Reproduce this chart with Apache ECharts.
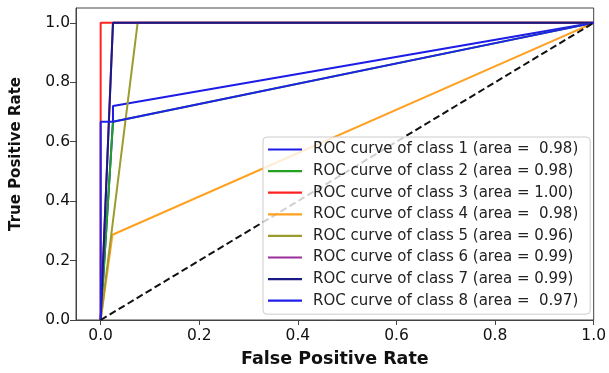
<!DOCTYPE html>
<html>
<head>
<meta charset="utf-8">
<script src="https://cdn.jsdelivr.net/npm/echarts@6/dist/echarts.min.js"></script>
<style>
  html, body { margin: 0; padding: 0; background: #fff; }
  #chart { width: 609px; height: 373px; }
</style>
</head>
<body>
<div id="chart"></div>
<script>
// Per-class ROC curves: false positive rate / true positive rate pairs
const fpr1 = [0, 0.025, 0.025, 1];
const tpr1 = [0, 0.667, 0.72, 1];
const fpr2 = [0, 0.025, 1];
const tpr2 = [0, 0.667, 1];
const fpr3 = [0, 0, 1];
const tpr3 = [0, 1, 1];
const fpr4 = [0, 0.024, 1];
const tpr4 = [0, 0.287, 1];
const fpr5 = [0, 0.075, 1];
const tpr5 = [0, 1, 1];
const fpr6 = [0, 0.025, 1];
const tpr6 = [0, 1, 1];
const fpr7 = [0, 0.025, 1];
const tpr7 = [0, 1, 1];
const fpr8 = [0, 0, 0.025, 1];
const tpr8 = [0, 0.667, 0.667, 1];

const classIds = ['1', '2', '3', '4', '5', '6', '7', '8'];
const areaLabels = [' 0.98', '0.98', '1.00', ' 0.98', '0.96', '0.99', '0.99', ' 0.97'];
const classColors = ['#1c1ce6', '#22a022', '#ff2222', '#ffa020', '#9c9c2c', '#9a2e9a', '#1a1a84', '#2020e8'];

// Chance diagonal
const chanceFpr = [0, 1];
const chanceTpr = [0, 1];

const tickValues = [0, 0.2, 0.4, 0.6, 0.8, 1.0];

const fprs = [fpr1, fpr2, fpr3, fpr4, fpr5, fpr6, fpr7, fpr8];
const tprs = [tpr1, tpr2, tpr3, tpr4, tpr5, tpr6, tpr7, tpr8];

const pairs = (xs, ys) => xs.map((x, i) => [x, ys[i]]);
const names = classIds.map((c, i) => 'ROC curve of class ' + c + ' (area = ' + areaLabels[i] + ')');

const series = names.map((name, i) => ({
  name: name,
  type: 'line',
  data: pairs(fprs[i], tprs[i]),
  symbol: 'none',
  color: classColors[i],
  lineStyle: { width: 2, color: classColors[i] },
  z: 2 + i,
  animation: false
}));

series.push({
  name: 'chance',
  type: 'line',
  data: pairs(chanceFpr, chanceTpr),
  symbol: 'none',
  color: '#111',
  lineStyle: { width: 2, color: '#111', type: [7, 3.5] },
  z: 12,
  animation: false
});

const fontFam = '"DejaVu Sans", sans-serif';
const chart = echarts.init(document.getElementById('chart'));
chart.setOption({
  animation: false,
  grid: {
    left: 76, right: 12, top: 8, bottom: 53,
    show: true, borderColor: '#444', borderWidth: 1, backgroundColor: 'transparent'
  },
  xAxis: {
    type: 'value',
    min: -0.05, max: 1.0,
    name: 'False Positive Rate',
    nameLocation: 'middle',
    nameGap: 30,
    nameTextStyle: { fontFamily: fontFam, fontSize: 17.5, fontWeight: 'bold', color: '#111' },
    axisLine: { show: true, onZero: false, lineStyle: { color: '#444', width: 1 } },
    axisTick: { show: true, customValues: tickValues, length: 5, lineStyle: { color: '#444' } },
    axisLabel: {
      customValues: tickValues, fontFamily: fontFam, fontSize: 15.5, color: '#111', margin: 8,
      formatter: v => v.toFixed(1)
    },
    splitLine: { show: false }
  },
  yAxis: {
    type: 'value',
    min: 0, max: 1.05,
    axisLine: { show: true, onZero: false, lineStyle: { color: '#444', width: 1 } },
    axisTick: { show: true, customValues: tickValues, length: 6, lineStyle: { color: '#444' } },
    axisLabel: {
      customValues: tickValues, fontFamily: fontFam, fontSize: 15.5, color: '#111', margin: 6,
      formatter: v => v.toFixed(1)
    },
    splitLine: { show: false }
  },
  legend: {
    data: names,
    orient: 'vertical',
    left: 263, top: 137,
    icon: 'rect',
    itemWidth: 34, itemHeight: 2.2, itemGap: 6.6,
    padding: [5, 12, 6, 5],
    backgroundColor: 'rgba(255,255,255,0.8)',
    borderColor: '#cccccc', borderWidth: 1, borderRadius: 4,
    textStyle: { fontFamily: fontFam, fontSize: 15, lineHeight: 15, color: '#222', padding: [0, 0, 0, 6] },
    selectedMode: false,
    z: 20
  },
  graphic: [{
    type: 'text',
    left: 9, top: 77,
    rotation: Math.PI / 2,
    style: {
      text: 'True Positive Rate',
      font: 'bold 15px "DejaVu Sans", sans-serif',
      fill: '#111'
    }
  }],
  series: series
});
</script>
</body>
</html>
